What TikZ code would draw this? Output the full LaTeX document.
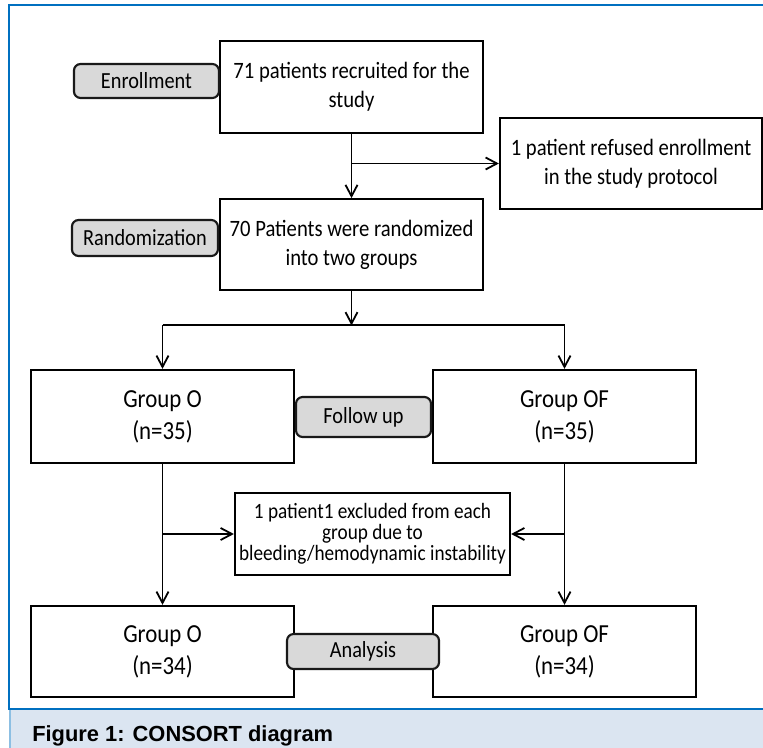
\documentclass[tikz,border=0pt]{standalone}
\usepackage{fontspec}
\setmainfont{Carlito}[FakeStretch=0.88]
\newfontfamily\capfont{Liberation Sans}
\usepackage{xcolor}
\definecolor{frameblue}{HTML}{0070C0}
\definecolor{capblue}{HTML}{DBE5F1}
\definecolor{taggray}{HTML}{D9D9D9}
\usetikzlibrary{arrows.meta, positioning, calc}

\begin{document}
\begin{tikzpicture}[
        x=0.75pt, y=-0.75pt,
        node distance=48pt and 12pt,
        font=\fontsize{17.6}{21.5}\selectfont,
        flow_box/.style={
            rectangle,
            draw=black,
            line width=1.7pt,
            fill=white,
            align=center,
            minimum width=197pt,
            minimum height=69pt,
            inner sep=2pt
        },
        group_box/.style={
            flow_box,
            font=\fontsize{19.5}{24}\selectfont
        },
        stage_tag/.style={
            rectangle,
            rounded corners=5pt,
            draw=black!90,
            line width=1.6pt,
            fill=taggray,
            align=center,
            inner sep=2pt,
            font=\fontsize{17.3}{20}\selectfont
        },
        arrow/.style={
            -{Straight Barb[length=8.5pt,width=9pt]},
            draw=black,
            line width=1.35pt
        },
        link/.style={
            draw=black,
            line width=1.35pt
        }
    ]

    \useasboundingbox (0,0) rectangle (763,748);

    % Frame and caption band
    \fill[capblue] (9,709) rectangle (763,748);
    \draw[frameblue!45, line width=1pt] (10,709) -- (10,748);
    \draw[frameblue, line width=1.7pt] (763,5) -- (9,5) -- (9,709) -- (763,709);
    \node[anchor=base west, inner sep=0pt, font=\capfont\bfseries\fontsize{16.4}{20}\selectfont] (caption) at (32,741) {Figure 1: CONSORT diagram};

    % Enrollment
    \node[flow_box] (recruit) at (351.5,87) {71 patients recruited for the\\study};
    \node[flow_box, minimum width=196.5pt, minimum height=68.25pt] (refused) at (631,163.5) {1 patient refused enrollment\\in the study protocol};
    \node[stage_tag, minimum width=108.75pt, minimum height=25.5pt, anchor=east] (enroll) at (220,81) {Enrollment};

    % Randomization
    \node[flow_box, below=48pt of recruit, minimum height=68.25pt] (random) {70 Patients were randomized\\into two groups};
    \node[stage_tag, minimum width=109.5pt, minimum height=27pt, anchor=east] (randlab) at (219,238) {Randomization};

    % Follow up
    \node[group_box, minimum height=69.75pt] (grpO) at (162.5,416.5) {Group O\\(n=35)};
    \node[group_box, minimum height=69.75pt] (grpOF) at (564.5,416.5) {Group OF\\(n=35)};
    \node[stage_tag, minimum width=101.25pt, minimum height=30pt] (follow) at (363.5,417) {Follow up};

    \node[flow_box, minimum width=206.25pt, minimum height=61.5pt, font=\fontsize{16.4}{15.6}\selectfont] (excl) at (372.5,534) {1 patient1 excluded from each\\group due to\\bleeding/hemodynamic instability};

    % Analysis
    \node[group_box, minimum height=68.25pt] (grpOb) at (162.5,651.5) {Group O\\(n=34)};
    \node[group_box, minimum height=68.25pt] (grpOFb) at (564.5,651.5) {Group OF\\(n=34)};
    \node[stage_tag, minimum width=114pt, minimum height=26.25pt] (analysis) at (363,651.5) {Analysis};

    % Flow arrows
    \draw[arrow] (recruit.south) -- (random.north);
    \draw[arrow] (recruit.south |- refused.west) -- (refused.west);

    \coordinate (split) at ($(random.south) + (0,34)$);
    \draw[arrow] (random.south) -- (split);
    \draw[link] (grpO.north |- split) -- (grpOF.north |- split);
    \draw[arrow] (grpO.north |- split) -- (grpO.north);
    \draw[arrow] (grpOF.north |- split) -- (grpOF.north);

    \draw[arrow] (grpO.south) -- (grpOb.north);
    \draw[arrow] (grpOF.south) -- (grpOFb.north);
    \draw[arrow] (grpO.south |- excl.west) -- (excl.west);
    \draw[arrow] (grpOF.south |- excl.east) -- (excl.east);

\end{tikzpicture}
\end{document}
